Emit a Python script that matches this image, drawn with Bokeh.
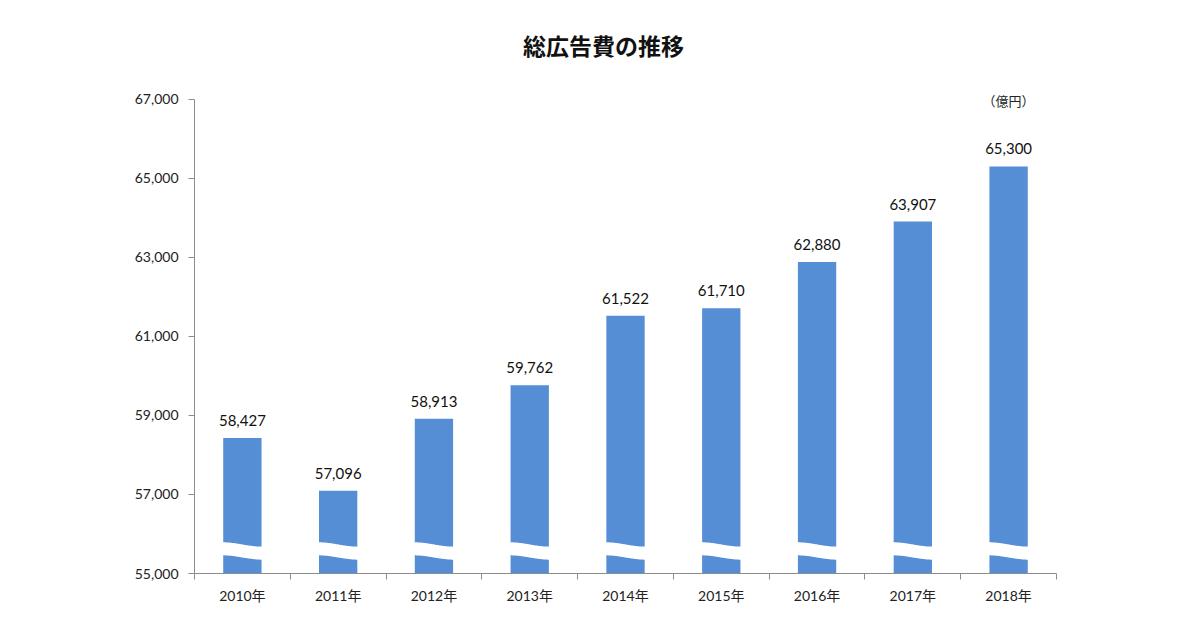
import numpy as np
from bokeh.plotting import figure
from bokeh.models import Range1d, FixedTicker, Label, ColumnDataSource
from bokeh.embed import file_html
from bokeh.resources import INLINE

# ---- data ----
years = ["2010年", "2011年", "2012年", "2013年", "2014年", "2015年", "2016年", "2017年", "2018年"]
values = [58427, 57096, 58913, 59762, 61522, 61710, 62880, 63907, 65300]
y_ticks = [55000, 57000, 59000, 61000, 63000, 65000, 67000]
title_text = "総広告費の推移"
unit_text = "（億円）"

BAR_COLOR = "#558ed5"
AXIS_COLOR = "#8c8c8c"
NUM_FONT = "Lato, 'Noto Sans CJK JP', sans-serif"
JP_FONT = "'Noto Sans CJK JP', sans-serif"

n = len(years)
centers = [i + 0.5 for i in range(n)]
Y_TOP = 69500  # extra room above the axis for title / unit text

p = figure(width=1200, height=630, output_backend="svg", toolbar_location=None,
           x_range=Range1d(0, n), y_range=Range1d(y_ticks[0], Y_TOP),
           min_border_left=194, min_border_right=144, min_border_top=0,
           min_border_bottom=57)
p.title.visible = False
p.outline_line_color = None
p.grid.visible = False
p.background_fill_color = "white"
p.border_fill_color = "white"

src = ColumnDataSource(dict(x=centers, top=values,
                            label=[f"{v:,}" for v in values]))
p.vbar(x="x", top="top", bottom=y_ticks[0], width=0.4, source=src,
       fill_color=BAR_COLOR, line_color=None)

# value labels
p.text(x="x", y="top", text="label", source=src, text_align="center",
       text_baseline="bottom", y_offset=-12, text_font_size="15px",
       text_color="#111111", text_font={"value": NUM_FONT})

# axis-break wave bands (white)
t = np.linspace(0, 1, 40)
s = (1 - np.cos(np.pi * t)) / 2
xs, ys = [], []
for c in centers:
    x0, x1 = c - 0.21, c + 0.21
    xx = x0 + (x1 - x0) * t
    top_edge = 55790 - 110 * s
    bot_edge = 55460 - 110 * s
    xs.append(list(xx) + list(xx[::-1]))
    ys.append(list(top_edge) + list(bot_edge[::-1]))
p.patches(xs, ys, fill_color="white", line_color=None)

# y axis
ya = p.yaxis[0]
ya.bounds = (y_ticks[0], y_ticks[-1])
ya.ticker = FixedTicker(ticks=y_ticks, minor_ticks=[])
ya.major_label_overrides = {v: f"{v:,}" for v in y_ticks}
ya.axis_line_color = AXIS_COLOR
ya.major_tick_line_color = AXIS_COLOR
ya.major_tick_out = 6
ya.major_tick_in = 0
ya.minor_tick_line_color = None
ya.major_label_text_font_size = "14px"
ya.major_label_text_color = "#222222"
ya.major_label_text_font = NUM_FONT
ya.major_label_standoff = 10

# x axis
xa = p.xaxis[0]
xa.ticker = FixedTicker(ticks=centers, minor_ticks=list(range(n + 1)))
xa.major_label_overrides = {c: y for c, y in zip(centers, years)}
xa.axis_line_color = AXIS_COLOR
xa.major_tick_line_color = None
xa.major_tick_out = 0
xa.major_tick_in = 0
xa.minor_tick_line_color = AXIS_COLOR
xa.minor_tick_out = 6
xa.minor_tick_in = 0
xa.major_label_text_font_size = "14px"
xa.major_label_text_color = "#222222"
xa.major_label_text_font = NUM_FONT
xa.major_label_standoff = 7

# title and unit
p.add_layout(Label(x=n / 2, y=y_ticks[-1], x_offset=-22, y_offset=54,
                   text=title_text,
                   text_align="center", text_baseline="middle",
                   text_font_size="23px", text_font_style="bold",
                   text_font=JP_FONT, text_color="#111111"))
p.add_layout(Label(x=centers[-1], y=y_ticks[-1], y_offset=-1, text=unit_text,
                   text_align="center", text_baseline="middle",
                   text_font_size="13px", text_font=JP_FONT,
                   text_color="#222222"))

open("out.html", "w").write(file_html(p, INLINE))
